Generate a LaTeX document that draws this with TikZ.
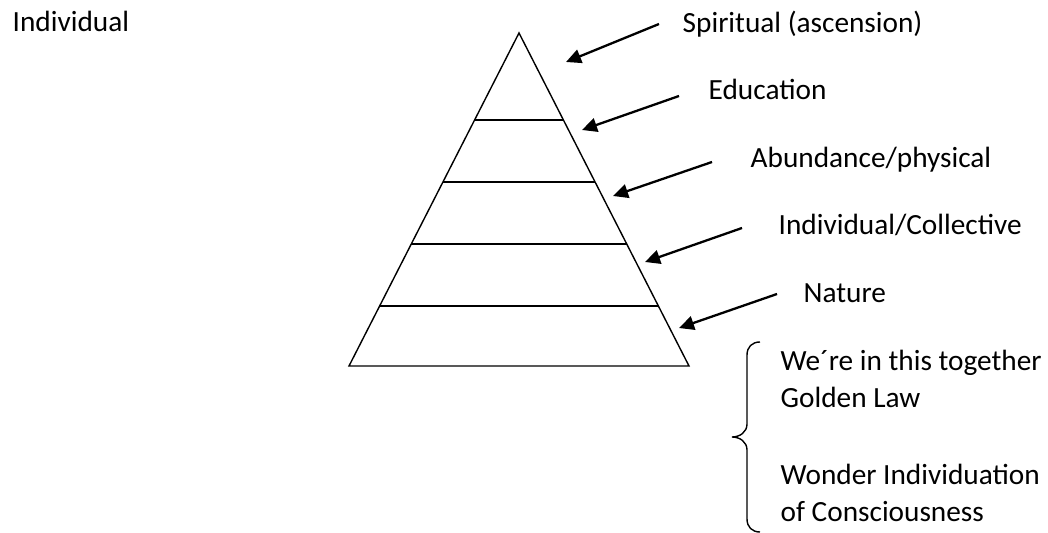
\documentclass[tikz,border=0pt]{standalone}
\usepackage{fontspec}
\setmainfont{Carlito}
\usetikzlibrary{arrows.meta,calc,positioning}

\tikzset{
    lbl/.style={anchor=base west, inner sep=0pt, font=\fontsize{14.65}{18.5}\selectfont},
    pointer/.style={-{Triangle[length=7.5pt,width=7pt]}, line width=1.15pt},
}

\begin{document}
\begin{tikzpicture}[x=0.5pt, y=-0.5pt, line width=0.7pt]
    \useasboundingbox (0,0) rectangle (1048,533);

    % pyramid
    \coordinate (apex) at (519,33);
    \coordinate (bl) at (349,366);
    \coordinate (br) at (689,366);
    \draw (apex) -- (bl) -- (br) -- cycle;
    \foreach \t/\w [count=\i] in {0.261/0.7pt, 0.447/1.1pt, 0.634/0.7pt, 0.820/0.7pt} {
        \draw [line width=\w] ($(apex)!\t!(bl)$) coordinate (l\i) -- ($(apex)!\t!(br)$) coordinate (r\i);
    }

    % labels
    \node [lbl] (indiv) at (12,32) {Individual};
    \node [lbl] (spirit) at (682,33) {Spiritual (ascension)};
    \node [lbl] (edu) at (708,100) {Education};
    \node [lbl] (abund) at (750,168) {Abundance/physical};
    \node [lbl] (coll) at (778,235) {Individual/Collective};
    \node [lbl] (nature) at (803,303) {Nature};

    % arrows
    \foreach \i/\sx/\sy/\tx/\ty in {1/659/24/566/62, 2/679/96/582/130, 3/712/162/613/196,
                                    4/742/228/645/262, 5/777/294/679/328} {
        \coordinate (s\i) at (\sx,\sy);
        \coordinate (t\i) at (\tx,\ty);
        \draw [pointer] (s\i) -- (t\i);
    }

    % brace
    \draw (760,342) .. controls (752,342) and (747,347) .. (747,355) -- (747,424)
        .. controls (747,432) and (740,437) .. (732,437)
        .. controls (740,437) and (747,442) .. (747,450) -- (747,519)
        .. controls (747,527) and (752,532) .. (760,532);
    \node [lbl] (together) at (780,371) {We´re in this together};
    \node [lbl] (golden) at (780,408) {Golden Law};
    \node [lbl] (wonder) at (780,484) {Wonder Individuation};
    \node [lbl] (consc) at (780,521) {of Consciousness};
\end{tikzpicture}
\end{document}
